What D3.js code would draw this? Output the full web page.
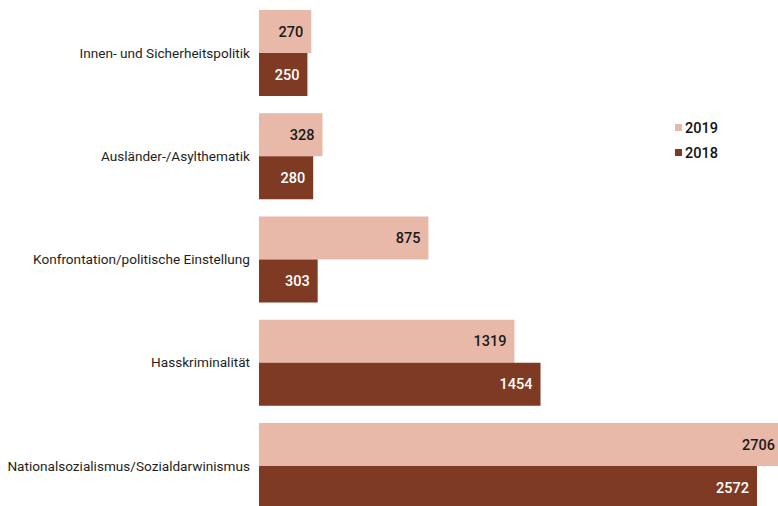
<!DOCTYPE html>
<html><head><meta charset="utf-8">
<script src="https://cdn.jsdelivr.net/npm/d3@7"></script>
<style>body{margin:0;background:#fff;overflow:hidden}svg{display:block;font-family:Roboto,"Liberation Sans",sans-serif}</style>
</head><body><svg id="c" width="778" height="506"></svg>
<script>
const categories = ["Innen- und Sicherheitspolitik","Ausländer-/Asylthematik","Konfrontation/politische Einstellung","Hasskriminalität","Nationalsozialismus/Sozialdarwinismus"];
const series = ["2019","2018"];
const values2019 = [270,328,875,1319,2706];
const values2018 = [250,280,303,1454,2572];
const colors = ["#e8b8a8","#7f3a23"];
const labelColors = ["#1a1a1a","#ffffff"];

const svg = d3.select("#c");
const x0 = 259;
const x = d3.scaleLinear().domain([0,2572]).range([x0,757]);
const y = d3.scaleBand().domain(categories).range([10,509]).paddingInner(0.167).paddingOuter(0);
const ys = d3.scaleBand().domain(series).range([0,y.bandwidth()]);

const data = categories.map((c,i)=>({c, v:[values2019[i],values2018[i]]}));
const g = svg.selectAll("g.cat").data(data).join("g").attr("class","cat")
  .attr("transform",d=>`translate(0,${y(d.c)})`);

g.selectAll("rect").data(d=>d.v.map((v,j)=>({v,s:series[j],j}))).join("rect")
  .attr("x",x0).attr("y",d=>ys(d.s)).attr("width",d=>x(d.v)-x0).attr("height",ys.bandwidth())
  .attr("fill",d=>colors[d.j]);

g.selectAll("text.val").data(d=>d.v.map((v,j)=>({v,s:series[j],j}))).join("text").attr("class","val")
  .attr("x",d=>x(d.v)-8).attr("y",d=>ys(d.s)+ys.bandwidth()/2).attr("dy","0.35em")
  .attr("text-anchor","end").attr("font-size",14.5).attr("font-weight",500).attr("fill",d=>labelColors[d.j]).text(d=>d.v);

g.append("text").attr("x",250).attr("y",y.bandwidth()/2).attr("dy","0.35em")
  .attr("text-anchor","end").attr("font-size",13.6).attr("font-weight",400).attr("fill","#1e1e1e").text(d=>d.c);

const legY = d3.scalePoint().domain(series).range([128,153]);
const lg = svg.selectAll("g.leg").data(series).join("g").attr("class","leg")
  .attr("transform",d=>`translate(675,${legY(d)})`);
lg.append("rect").attr("x",0).attr("y",-4).attr("width",7).attr("height",7).attr("fill",(d,i)=>colors[i]);
lg.append("text").attr("x",10).attr("y",0).attr("dy","0.35em").attr("font-size",14.5).attr("font-weight",500).attr("fill","#111").text(d=>d);
</script></body></html>
